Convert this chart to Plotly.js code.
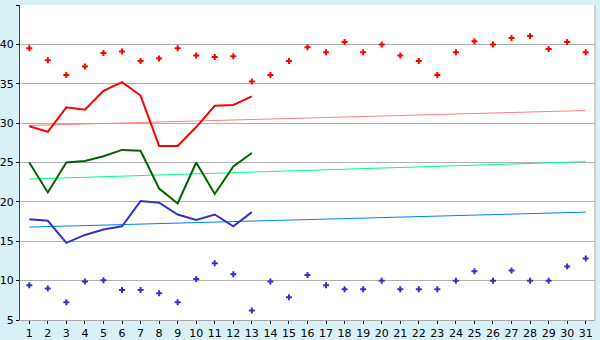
<!DOCTYPE html>
<html>
<head>
<meta charset="utf-8">
<script src="https://cdn.plot.ly/plotly-3.0.1.min.js"></script>
<style>html,body{margin:0;padding:0;background:#daf0f7;}#chart{width:600px;height:340px;}</style>
</head>
<body>
<div id="chart"></div>
<script>
const days = Array.from({length: 31}, (_, i) => i + 1);
const days13 = days.slice(0, 13);
const tickLabels = days.map(String);

const redMarks = [39.5, 38.0, 36.1, 37.2, 38.9, 39.1, 37.9, 38.2, 39.5, 38.6, 38.4, 38.5, 35.3, 36.1, 37.9, 39.65, 39.0, 40.3, 39.0, 40.0, 38.6, 37.9, 36.1, 39.0, 40.4, 40.0, 40.8, 41.05, 39.4, 40.3, 39.0];
const blueMarks = [9.4, 9.0, 7.25, 9.9, 10.05, 8.8, 8.8, 8.4, 7.25, 10.2, 12.2, 10.8, 6.2, 9.9, 7.9, 10.7, 9.4, 8.9, 8.9, 10.0, 8.9, 8.9, 8.9, 10.0, 11.2, 10.0, 11.3, 10.0, 10.0, 11.8, 12.8];
const redLine = [29.6, 28.9, 32.0, 31.7, 34.1, 35.2, 33.5, 27.1, 27.1, 29.5, 32.2, 32.3, 33.4];
const greenLine = [25.0, 21.2, 25.0, 25.2, 25.8, 26.6, 26.5, 21.7, 19.8, 25.0, 21.0, 24.5, 26.2];
const blueLine = [17.8, 17.6, 14.8, 15.8, 16.5, 16.9, 20.1, 19.9, 18.4, 17.7, 18.4, 16.9, 18.7];
const trendX = [1, 31];
const redTrend = [29.7, 31.6];
const greenTrend = [22.9, 25.1];
const blueTrend = [16.8, 18.7];

const traces = [
  {x: trendX, y: redTrend, mode: 'lines', line: {color: '#ff8080', width: 1}},
  {x: trendX, y: greenTrend, mode: 'lines', line: {color: '#00ff80', width: 1}},
  {x: trendX, y: blueTrend, mode: 'lines', line: {color: '#0080ff', width: 1}},
  {x: days13, y: redLine, mode: 'lines', line: {color: '#ff0000', width: 2}},
  {x: days13, y: greenLine, mode: 'lines', line: {color: '#006400', width: 2}},
  {x: days13, y: blueLine, mode: 'lines', line: {color: '#3333cc', width: 2}},
  {x: days, y: redMarks, mode: 'markers', marker: {symbol: 'cross', size: 5, color: '#ff0000', line: {width: 0}}},
  {x: days, y: blueMarks, mode: 'markers', marker: {symbol: 'cross', size: 5, color: '#3333cc', line: {width: 0}}}
];

const layout = {
  width: 600, height: 340,
  margin: {l: 20, r: 5, t: 5, b: 20},
  paper_bgcolor: '#daf0f7',
  plot_bgcolor: '#ffffff',
  showlegend: false,
  font: {family: 'DejaVu Sans, Verdana, sans-serif', size: 11, color: '#000000'},
  xaxis: {
    range: [0.5, 31.5], tickvals: days, ticktext: tickLabels,
    showgrid: false, zeroline: false,
    ticks: 'outside', ticklen: 3, tickcolor: '#000000', tickwidth: 1,
    showline: true, linecolor: '#a8a8a8', mirror: false,
    tickfont: {size: 11}, fixedrange: true
  },
  yaxis: {
    range: [5, 45], dtick: 5, tick0: 5,
    showgrid: true, gridcolor: '#b0b0b0', gridwidth: 1,
    zeroline: false, ticks: 'outside', ticklen: 3, tickcolor: '#000000',
    showline: true, linecolor: '#404040', linewidth: 1,
    tickfont: {size: 11}, fixedrange: true
  },
  shapes: [
    {type: 'line', xref: 'paper', yref: 'paper', x0: 1, x1: 1, y0: 0, y1: 1, line: {color: '#a8a8a8', width: 1}}
  ]
};

Plotly.newPlot('chart', traces, layout, {displayModeBar: false, staticPlot: true});
</script>
</body>
</html>
